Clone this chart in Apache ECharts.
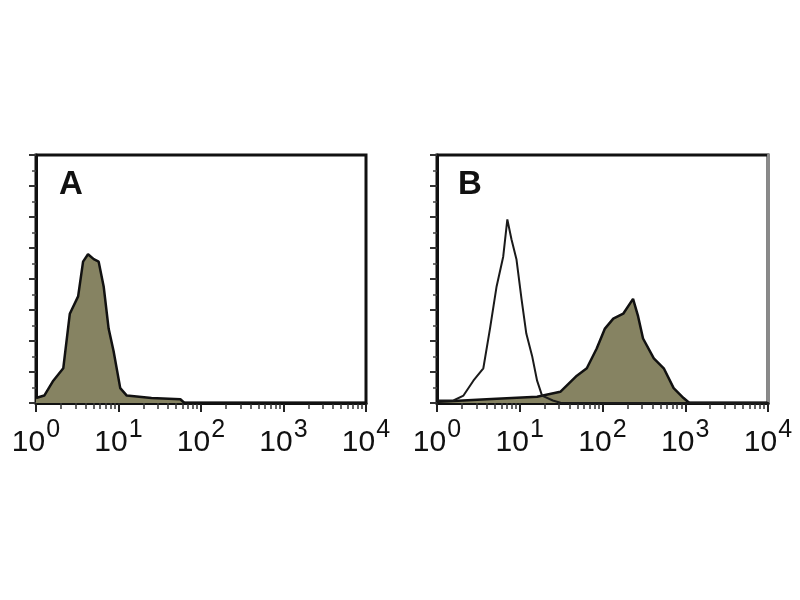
<!DOCTYPE html>
<html>
<head>
<meta charset="utf-8">
<script src="https://cdn.jsdelivr.net/npm/echarts@6/dist/echarts.min.js"></script>
<style>html,body{margin:0;padding:0;background:#fff}#c{width:800px;height:600px}</style>
</head>
<body>
<div id="c"></div>
<script>
// Panel labels and tick exponents
const panelLabels = ['A', 'B'];
const tickExponents = ['0', '1', '2', '3', '4'];

// Panel A: filled histogram (fluorescence, % of max count)
const panelA_x = [1, 1.26, 1.62, 2.14, 2.57, 3.24, 3.72, 4.27, 5.01, 5.75, 6.61, 7.59, 8.71, 10.5, 12.6, 25.1, 56.2, 63.1, 10000];
const panelA_y = [2, 3, 9, 14, 36, 43, 57, 60, 58, 57, 47, 30, 21, 6, 3, 2, 1.5, 0, 0];

// Panel B: open histogram (control)
const panelB_open_x = [1, 1.58, 2.09, 2.75, 3.63, 4.37, 5.25, 6.31, 7.08, 7.94, 9.12, 10.5, 12.0, 14.1, 16.2, 18.6, 25.1, 31.6, 10000];
const panelB_open_y = [1, 1, 3, 9, 14, 30, 47, 59, 74, 66, 58, 42, 28, 19, 9, 3, 1, 0, 0];

// Panel B: filled histogram (stained)
const panelB_fill_x = [1, 1.58, 3.98, 16.2, 30.9, 49.0, 64.6, 85.1, 107, 135, 178, 234, 269, 309, 417, 550, 724, 955, 1122, 10000];
const panelB_fill_y = [0.5, 0.8, 1.5, 2.5, 4.5, 11, 14, 22, 30, 34, 36, 42, 35, 26, 18, 14, 6, 2, 0, 0];

const zip = (xs, ys) => xs.map((x, i) => [x, ys[i]]);

const fillColor = '#868362';
const ink = '#111';
const font = 'Liberation Sans, Arial, sans-serif';

function xAxisFor(idx) {
  return {
    type: 'log', logBase: 10, min: 1, max: 10000, gridIndex: idx,
    axisLine: { show: true, lineStyle: { color: ink, width: 3 } },
    axisTick: { show: true, length: 9, lineStyle: { color: '#222', width: 2 } },
    minorTick: { show: true, splitNumber: 9, length: 6, lineStyle: { color: '#333', width: 1.5 } },
    splitLine: { show: false },
    axisLabel: {
      margin: 15,
      formatter: function (v) {
        const e = Math.round(Math.log10(v));
        return '{a|10}{b|' + tickExponents[e] + '}';
      },
      rich: {
        a: { fontFamily: font, fontSize: 30, color: '#111', verticalAlign: 'bottom', padding: [10, 0, 0, 0] },
        b: { fontFamily: font, fontSize: 25, color: '#111', verticalAlign: 'top', padding: [0, 0, 0, 1] }
      }
    }
  };
}
function yAxisFor(idx) {
  return {
    type: 'value', min: 0, max: 100, interval: 12.5, gridIndex: idx,
    axisLine: { show: true, lineStyle: { color: ink, width: 3 } },
    axisTick: { show: true, length: 7, lineStyle: { color: '#333', width: 2 } },
    minorTick: { show: true, splitNumber: 2, length: 4, lineStyle: { color: '#444', width: 1.5 } },
    axisLabel: { show: false },
    splitLine: { show: false }
  };
}

const chart = echarts.init(document.getElementById('c'), null, { renderer: 'canvas' });
chart.setOption({
  backgroundColor: '#fff',
  animation: false,
  title: [
    { text: panelLabels[0], left: 54, top: 163, textStyle: { fontFamily: font, fontSize: 33, fontWeight: 'bold', color: '#111' } },
    { text: panelLabels[1], left: 453, top: 163, textStyle: { fontFamily: font, fontSize: 33, fontWeight: 'bold', color: '#111' } }
  ],
  grid: [
    { left: 36, top: 155, width: 330, height: 248, show: true, borderColor: ink, borderWidth: 3, backgroundColor: 'transparent' },
    { left: 437, top: 155, width: 331, height: 248, show: true, borderColor: ink, borderWidth: 3, backgroundColor: 'transparent' }
  ],
  xAxis: [xAxisFor(0), xAxisFor(1)],
  yAxis: [yAxisFor(0), yAxisFor(1), {
    type: 'value', gridIndex: 1, position: 'right', min: 0, max: 100,
    axisLine: { show: true, lineStyle: { color: '#8a8a8a', width: 3 } },
    axisTick: { show: false }, axisLabel: { show: false }, splitLine: { show: false }
  }],
  series: [
    {
      type: 'line', xAxisIndex: 0, yAxisIndex: 0, symbol: 'none',
      data: zip(panelA_x, panelA_y),
      lineStyle: { color: ink, width: 2.5 },
      areaStyle: { color: fillColor, opacity: 1 }
    },
    {
      type: 'line', xAxisIndex: 1, yAxisIndex: 1, symbol: 'none',
      data: zip(panelB_fill_x, panelB_fill_y),
      lineStyle: { color: ink, width: 2.5 },
      areaStyle: { color: fillColor, opacity: 1 }
    },
    {
      type: 'line', xAxisIndex: 1, yAxisIndex: 1, symbol: 'none',
      data: zip(panelB_open_x, panelB_open_y),
      lineStyle: { color: '#1a1a1a', width: 2 }
    }
  ]
});
</script>
</body>
</html>
